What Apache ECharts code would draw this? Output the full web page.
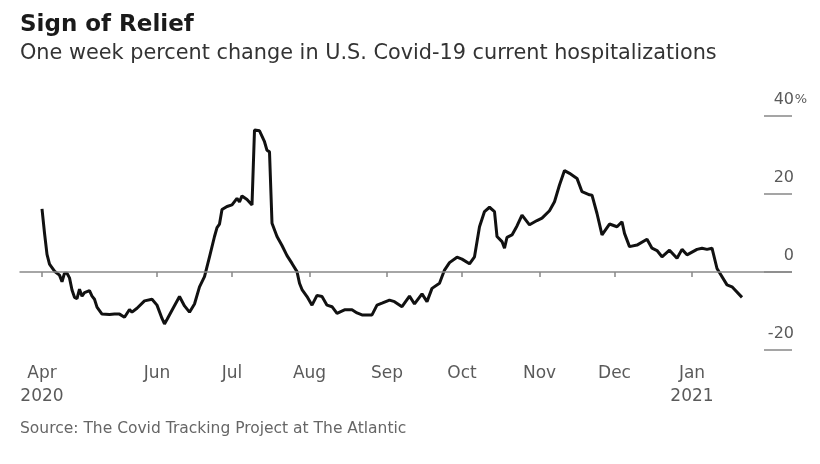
<!DOCTYPE html>
<html>
<head>
<meta charset="utf-8">
<script src="https://cdn.jsdelivr.net/npm/echarts@6/dist/echarts.min.js"></script>
<style>
  html, body { margin: 0; padding: 0; background: #fff; }
  #chart { width: 820px; height: 464px; }
</style>
</head>
<body>
<div id="chart"></div>
<script>
  // days since 2020-04-16 (first reading) and the one-week % change
  var dayOffset = [0, 1, 2, 3, 5, 7, 8, 9, 10, 11, 12, 13, 14, 15, 16, 17, 19, 20, 21, 22,
    24, 27, 29, 31, 33, 35, 36, 38, 41, 44, 46, 48, 49, 50, 52, 55, 57, 59, 61, 63,
    65, 67, 69, 70, 71, 72, 74, 76, 78, 79, 80, 82, 84, 85, 87, 89, 90, 91, 92, 94,
    96, 98, 100, 102, 103, 104, 106, 108, 110, 112, 114, 116, 118, 121, 124, 126, 128, 132, 134, 136,
    139, 141, 144, 147, 149, 152, 154, 156, 159, 161, 163, 166, 168, 171, 173, 175, 177, 179, 181, 182,
    184, 185, 186, 188, 190, 192, 195, 198, 200, 203, 205, 207, 209, 211, 214, 216, 219, 220, 222, 224,
    227, 230, 232, 233, 235, 238, 242, 244, 246, 248, 251, 254, 256, 258, 262, 264, 266, 268, 270, 274,
    276, 280];
  var pctChange = [16.2, 10, 4.5, 2, 0.2, -0.8, -2.5, -0.3, -0.3, -1.5, -4.6, -6.5, -6.8, -4.4, -6.2, -5.3, -4.8, -6.2, -7, -9,
    -10.8, -10.9, -10.8, -10.8, -11.6, -9.6, -10.3, -9.3, -7.4, -7.0, -8.5, -11.9, -13.3, -12.2, -9.8, -6.3, -8.7, -10.3, -8.2, -3.8,
    -1.2, 3.9, 9.1, 11.4, 12.3, 16, 16.8, 17.2, 18.9, 18, 19.5, 18.6, 17.2, 36.4, 36.2, 33.4, 31.2, 30.8, 12.5, 9.1,
    6.8, 4.2, 2.2, 0.1, -2.9, -4.5, -6.3, -8.5, -6, -6.3, -8.5, -8.9, -10.6, -9.7, -9.7, -10.5, -11, -11, -8.5, -8,
    -7.2, -7.6, -8.9, -6.2, -8.2, -5.6, -7.6, -4.2, -2.9, 0.5, 2.4, 3.8, 3.3, 2.1, 3.9, 11.6, 15.5, 16.6, 15.5, 9.1,
    7.8, 6.1, 8.9, 9.5, 11.8, 14.6, 12.1, 13.2, 13.8, 15.7, 18, 22.3, 26, 25.3, 24, 20.6, 19.8, 19.7, 15, 9.5,
    12.3, 11.6, 12.9, 9.9, 6.5, 6.9, 8.4, 6.1, 5.5, 3.9, 5.6, 3.5, 5.8, 4.4, 5.8, 6.1, 5.8, 6.1, 0.9, -3.3,
    -3.8, -6.5];

  var tickLabels = {
    '2020-04-16': 'Apr\n2020',
    '2020-06-01': 'Jun',
    '2020-07-01': 'Jul',
    '2020-08-01': 'Aug',
    '2020-09-01': 'Sep',
    '2020-10-01': 'Oct',
    '2020-11-01': 'Nov',
    '2020-12-01': 'Dec',
    '2021-01-01': 'Jan\n2021'
  };
  var yTicks = [-20, 0, 20, 40];

  // one category per day, with some blank room either side of the data
  var firstDay = Date.UTC(2020, 3, 7);
  var lastDay = Date.UTC(2021, 1, 10);
  var dataStart = Date.UTC(2020, 3, 16);
  var categories = [];
  for (var t = firstDay; t <= lastDay; t += 86400000) {
    categories.push(new Date(t).toISOString().slice(0, 10));
  }
  var startIdx = Math.round((dataStart - firstDay) / 86400000);

  var lineData = dayOffset.map(function (d, i) {
    return [categories[startIdx + d], pctChange[i]];
  });

  function isTick(index, value) {
    return tickLabels.hasOwnProperty(value);
  }

  var chart = echarts.init(document.getElementById('chart'));
  chart.setOption({
    backgroundColor: '#fff',
    animation: false,
    textStyle: { fontFamily: 'DejaVu Sans' },
    title: [{
      text: 'Sign of Relief',
      left: 20,
      top: 14,
      padding: 0,
      textStyle: { fontSize: 23, fontWeight: 'bold', color: '#1a1a1a', fontFamily: 'DejaVu Sans' }
    }, {
      text: 'One week percent change in U.S. Covid-19 current hospitalizations',
      left: 20,
      top: 43,
      padding: 0,
      textStyle: { fontSize: 20.8, fontWeight: 'normal', color: '#333', fontFamily: 'DejaVu Sans' }
    }, {
      text: 'Source: The Covid Tracking Project at The Atlantic',
      left: 20,
      top: 421,
      padding: 0,
      textStyle: { fontSize: 15.5, fontWeight: 'normal', color: '#666', fontFamily: 'DejaVu Sans' }
    }],
    grid: {
      left: 19.5,
      right: 28,
      top: 116,
      bottom: 114,
      outerBoundsMode: 'none'
    },
    xAxis: {
      type: 'category',
      data: categories,
      boundaryGap: false,
      axisLine: { show: false },
      axisTick: {
        show: true,
        interval: isTick,
        length: 5,
        lineStyle: { color: '#888', width: 1.5 }
      },
      axisLabel: {
        interval: isTick,
        formatter: function (v) { return tickLabels[v] || ''; },
        color: '#5a5a5a',
        fontSize: 17,
        lineHeight: 23,
        margin: 12
      },
      splitLine: { show: false }
    },
    yAxis: {
      type: 'value',
      position: 'right',
      min: -20,
      max: 40,
      interval: 20,
      axisLine: { show: false },
      axisTick: {
        show: true,
        inside: true,
        length: 28,
        lineStyle: { color: '#888', width: 1.5 }
      },
      axisLabel: {
        inside: true,
        margin: -15,
        verticalAlign: 'bottom',
        padding: [0, 0, 8, 0],
        formatter: function (v) {
          return '{v|' + v + '}{p|' + (v === 40 ? '%' : ' ') + '}';
        },
        rich: {
          v: { fontSize: 16, color: '#5a5a5a', align: 'right' },
          p: { width: 13, fontSize: 13, color: '#5a5a5a', align: 'right' }
        }
      },
      splitLine: { show: false }
    },
    series: [{
      type: 'line',
      data: lineData,
      showSymbol: false,
      symbol: 'none',
      lineStyle: { color: '#111', width: 3 },
      markLine: {
        silent: true,
        symbol: 'none',
        label: { show: false },
        lineStyle: { color: '#888', width: 1.5, type: 'solid' },
        data: [{ yAxis: 0 }]
      },
      z: 3
    }]
  });
</script>
</body>
</html>
